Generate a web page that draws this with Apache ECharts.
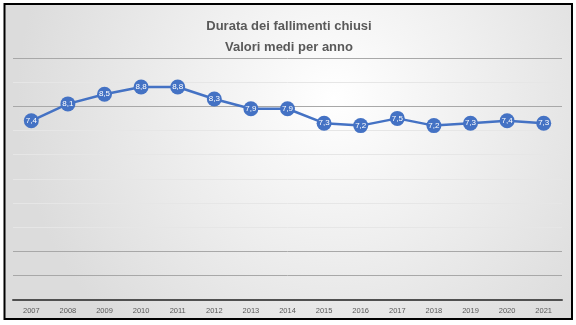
<!DOCTYPE html>
<html>
<head>
<meta charset="utf-8">
<script src="https://cdn.jsdelivr.net/npm/echarts@6/dist/echarts.min.js"></script>
<style>
  html, body { margin: 0; padding: 0; background: #ffffff; }
  #chart { width: 576px; height: 325px; }
</style>
</head>
<body>
<div id="chart"></div>
<script>
// Average duration of closed bankruptcies, by year
const years = ['2007', '2008', '2009', '2010', '2011', '2012', '2013', '2014',
               '2015', '2016', '2017', '2018', '2019', '2020', '2021'];
const durata = [7.4, 8.1, 8.5, 8.8, 8.8, 8.3, 7.9, 7.9, 7.3, 7.2, 7.5, 7.2, 7.3, 7.4, 7.3];
const titleLines = ['Durata dei fallimenti chiusi', 'Valori medi per anno'];

// Gridline shades, one per value from 0 to 10
const strong = '#a8a8a8';
const faint = '#e6e6e6';
const gridColors = [strong, strong, strong, faint, faint, faint, faint, faint, strong, faint, strong];

const chart = echarts.init(document.getElementById('chart'));
chart.setOption({
  animation: false,
  backgroundColor: '#ffffff',
  graphic: [{
    type: 'rect',
    z: -10,
    silent: true,
    shape: { x: 4.5, y: 4, width: 567.5, height: 315 },
    style: {
      fill: {
        type: 'radial', x: 0.58, y: 0.3, r: 1.0,
        colorStops: [
          { offset: 0, color: '#ffffff' },
          { offset: 1, color: '#dcdcdc' }
        ]
      },
      stroke: '#000000',
      lineWidth: 2
    }
  }],
  title: {
    text: titleLines.join('\n'),
    left: 284,
    textAlign: 'center',
    top: 11,
    textStyle: {
      fontFamily: 'Liberation Sans',
      fontSize: 13,
      fontWeight: 'bold',
      color: '#595959',
      lineHeight: 21
    }
  },
  grid: { left: 13, right: 14, top: 58, bottom: 25.5 },
  xAxis: {
    type: 'category',
    data: years,
    boundaryGap: true,
    axisLine: { lineStyle: { color: '#505050', width: 2 } },
    axisTick: { show: false },
    axisLabel: { fontSize: 7.5, color: '#595959', margin: 7, fontFamily: 'Liberation Sans' }
  },
  yAxis: {
    type: 'value',
    min: 0,
    max: 10,
    interval: 1,
    axisLabel: { show: false },
    axisLine: { show: false },
    axisTick: { show: false },
    splitLine: { lineStyle: { color: gridColors, width: 1 } }
  },
  series: [{
    type: 'line',
    data: durata,
    symbol: 'circle',
    symbolSize: 15,
    itemStyle: { color: '#4472C4' },
    lineStyle: { color: '#4472C4', width: 2.5 },
    label: {
      show: true,
      position: 'inside',
      color: '#ffffff',
      fontSize: 8,
      fontFamily: 'Liberation Sans',
      formatter: p => p.value.toFixed(1).replace('.', ',')
    }
  }]
});
</script>
</body>
</html>
